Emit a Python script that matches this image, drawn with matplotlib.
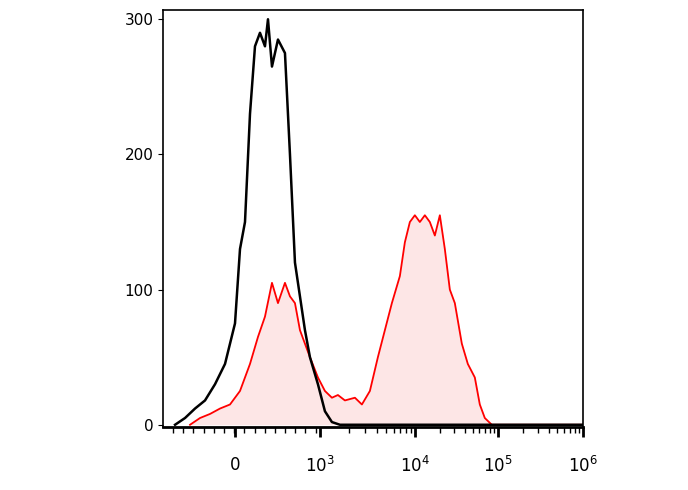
import numpy as np
import matplotlib
matplotlib.use("Agg")
import matplotlib.pyplot as plt

# x in display channel units (0 = left edge of axis), y = count
black_x = [12, 22, 32, 42, 52, 62, 72, 77, 82, 87, 92, 97, 102, 105, 109, 115, 122, 127, 132, 137, 142, 147, 155, 162, 169, 177, 420]
black_y = [0, 5, 12, 18, 30, 45, 75, 130, 150, 230, 280, 290, 280, 300, 265, 285, 275, 200, 120, 95, 70, 50, 30, 10, 2, 0, 0]
red_x = [27, 37, 47, 57, 67, 77, 87, 95, 102, 109, 115, 122, 127, 132, 137, 142, 147, 155, 162, 169, 175, 182, 192, 199, 207, 215, 222, 229, 237, 242, 247, 252, 257, 262, 267, 272, 277, 282, 287, 292, 299, 305, 312, 317, 322, 329, 420]
red_y = [0, 5, 8, 12, 15, 25, 45, 65, 80, 105, 90, 105, 95, 90, 70, 60, 50, 35, 25, 20, 22, 18, 20, 15, 25, 50, 70, 90, 110, 135, 150, 155, 150, 155, 150, 140, 155, 130, 100, 90, 60, 45, 35, 15, 5, 0, 0]

major_pos = [72, 157, 252, 335, 420]
major_lab = ["0", "$10^3$", "$10^4$", "$10^5$", "$10^6$"]
y_ticks = [0, 100, 200, 300]

fig = plt.figure(figsize=(6.88, 4.90), dpi=100)
ax = fig.add_axes([0.237, 0.129, 0.61, 0.851])
ax.fill_between(red_x, red_y, color="#fde6e6", lw=0)
ax.plot(red_x, red_y, color="red", lw=1.3)
ax.plot(black_x, black_y, color="black", lw=1.8)

ax.set_xlim(0, 420)
ax.set_ylim(-1.5, 307)
ax.set_yticks(y_ticks)
ax.set_yticklabels([str(v) for v in y_ticks], fontsize=11)
ax.set_xticks(major_pos)
ax.set_xticklabels(major_lab, fontsize=12)
ax.tick_params(axis="x", which="major", length=7, width=2, pad=14)
minor = []
for a, b in zip(major_pos[1:-1], major_pos[2:]):
    minor += [a + (b - a) * np.log10(k) for k in range(2, 10)]
minor += [72 + (157 - 72) * f for f in np.linspace(-0.85, 0.95, 16)]
ax.set_xticks([m for m in minor if 0 < m < 420], minor=True)
ax.tick_params(axis="x", which="minor", length=4, width=1)
for s in ax.spines.values():
    s.set_linewidth(1.2)
ax.spines["bottom"].set_linewidth(2)
fig.savefig("out.png", dpi=100, facecolor="white")
